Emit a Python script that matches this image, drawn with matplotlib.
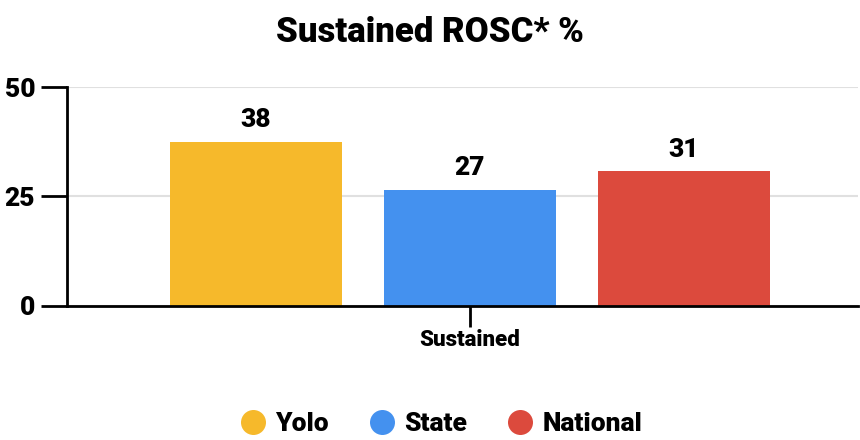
import matplotlib.pyplot as plt
import numpy as np
from matplotlib.lines import Line2D

plt.rcParams["font.family"] = ["Roboto", "DejaVu Sans"]
plt.rcParams["font.weight"] = "black"

# data
category = "Sustained"
series = ["Yolo", "State", "National"]
values = [37.6, 26.6, 30.8]
colors = ["#F6B92B", "#4491EF", "#DC4A3D"]

fig = plt.figure(figsize=(8.6, 4.4), dpi=100)
ax = fig.add_axes([67 / 860, 1 - 305.5 / 440, (858 - 67) / 860, (305.5 - 87.5) / 440])

x = np.arange(len(series)) - 1
ax.bar(x, values, width=0.804, color=colors, zorder=2)
for xi, v in zip(x, values):
    ax.text(xi, v + 2.2, f"{v:.0f}", ha="center", va="bottom",
            fontsize=19, fontweight="black", color="#000000")

ax.set_xlim(-1.883, 1.813)
ax.set_ylim(0, 50)
ax.set_yticks([0, 25, 50])
ax.set_yticklabels(["0", "25", "50"], fontsize=19, fontweight="black")
ax.yaxis.grid(True, color="#e0e0e0", lw=1.5, zorder=0)
ax.set_xticks([0])
ax.set_xticklabels([category], fontsize=16, fontweight="black")
ax.tick_params(axis="y", length=19, width=2, pad=4)
ax.tick_params(axis="x", length=15, width=2, pad=2)
for s in ("top", "right"):
    ax.spines[s].set_visible(False)
ax.spines["left"].set_linewidth(2)
ax.spines["bottom"].set_linewidth(2)

fig.text(0.5, 1 - 33 / 440, "Sustained ROSC* %", ha="center", va="center",
         fontsize=25, fontweight="black")

handles = [Line2D([], [], marker="o", ls="", markersize=18, color=c,
                  markeredgewidth=0) for c in colors]
fig.legend(handles, series, loc="center", bbox_to_anchor=(0.508, 1 - 424 / 440),
           ncol=3, frameon=False, handletextpad=0.05, handlelength=1.6,
           columnspacing=1.2, prop={"weight": "black", "size": 19})

fig.savefig("out.png", dpi=100)
